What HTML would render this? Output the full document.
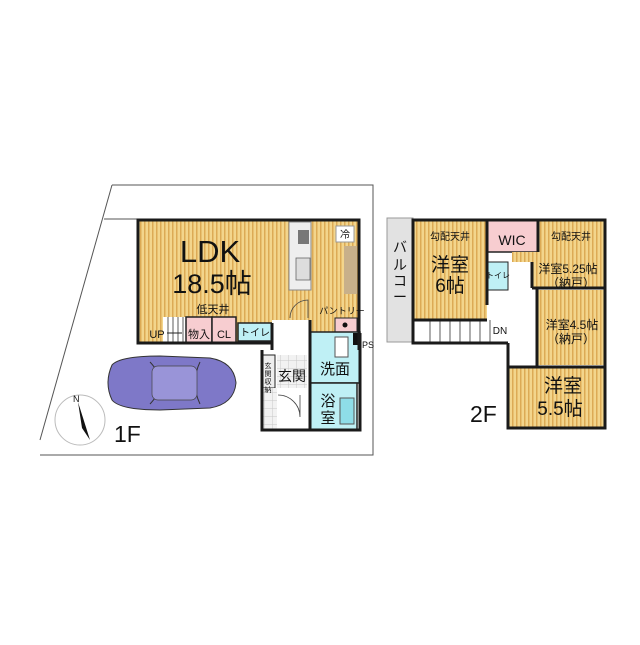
<!DOCTYPE html>
<html><head><meta charset="utf-8"><style>
html,body{margin:0;padding:0;background:#fff;}
svg text{font-family:"Liberation Sans","Noto Sans CJK JP",sans-serif;fill:#111;}
</style></head><body>
<svg width="640" height="640" viewBox="0 0 640 640" xmlns="http://www.w3.org/2000/svg">
<defs>
<pattern id="wood" width="4" height="4" patternUnits="userSpaceOnUse">
<rect width="4" height="4" fill="#f3d58c"/><rect width="1.5" height="4" fill="#dcaa55"/>
</pattern>
<pattern id="tile" width="8" height="8" patternUnits="userSpaceOnUse">
<rect width="8" height="8" fill="#f2f2f2"/><path d="M0 0H8M0 0V8" stroke="#c8c8c8" stroke-width="1"/>
</pattern>
</defs>
<!-- site lines 1F -->
<polyline points="112,185 373,185 373,455 40,455" fill="none" stroke="#555" stroke-width="1"/>
<line x1="112" y1="185" x2="40" y2="440" stroke="#555" stroke-width="1"/>
<line x1="104" y1="219" x2="137" y2="219" stroke="#555" stroke-width="1"/>

<!-- LDK -->
<rect x="138" y="220" width="221" height="123" fill="url(#wood)"/>
<rect x="163" y="317" width="23" height="26" fill="#fff"/>
<g stroke="#333" stroke-width="0.8">
<line x1="168" y1="317" x2="168" y2="343"/><line x1="173" y1="317" x2="173" y2="343"/><line x1="178" y1="317" x2="178" y2="343"/><line x1="183" y1="317" x2="183" y2="343"/>
</g>
<rect x="186" y="317" width="26" height="26" fill="#f7cdd0" stroke="#222" stroke-width="1.5"/>
<rect x="212" y="317" width="24" height="26" fill="#f7cdd0" stroke="#222" stroke-width="1.5"/>
<rect x="238" y="323" width="34" height="18" fill="#bff0f5" stroke="#222" stroke-width="1.5"/>
<!-- kitchen -->
<rect x="289" y="222" width="22" height="68" fill="#eee" stroke="#888" stroke-width="1"/>
<rect x="298" y="230" width="11" height="14" fill="#777"/>
<rect x="296" y="258" width="14" height="22" fill="#ddd" stroke="#666" stroke-width="0.8"/>
<rect x="336" y="226" width="18" height="16" fill="#fff" stroke="#999"/>
<text x="345" y="238" font-size="10" text-anchor="middle">冷</text>
<rect x="344" y="246" width="13" height="48" fill="#c8b08a"/>
<rect x="335" y="318" width="22" height="14" fill="#f7cdd0" stroke="#222" stroke-width="1"/>
<circle cx="345" cy="325" r="2.5" fill="#111"/>
<!-- hall -->
<rect x="272" y="320" width="38" height="110" fill="#fff"/>
<rect x="262" y="355" width="13" height="33" fill="#eee" stroke="#222" stroke-width="1"/>
<rect x="262" y="388" width="15" height="42" fill="url(#tile)"/>
<rect x="277" y="355" width="30" height="33" fill="url(#tile)"/>
<rect x="310" y="332" width="50" height="51" fill="#bff0f5" stroke="#222" stroke-width="1.5"/>
<rect x="310" y="383" width="47" height="47" fill="#bff0f5" stroke="#222" stroke-width="1.5"/>
<rect x="340" y="398" width="14" height="26" fill="#8edde8" stroke="#555"/>
<rect x="335" y="337" width="13" height="20" fill="#fff" stroke="#555"/>
<rect x="353" y="333" width="6" height="12" fill="#111"/>
<!-- walls 1F -->
<g fill="none" stroke="#1a1a1a" stroke-width="3">
<polyline points="272,343 138,343 138,220 359,220 359,350"/>
<polyline points="262,350 262,430 360,430 360,333"/>
<line x1="310" y1="320" x2="310" y2="430"/>
<line x1="272" y1="323" x2="272" y2="350"/>
</g>
<path d="M290 318 A18 18 0 0 1 308 300 L308 318" fill="none" stroke="#444" stroke-width="0.8"/>
<path d="M278 395 A22 22 0 0 1 300 417 L300 395" fill="none" stroke="#444" stroke-width="0.8"/>
<text x="210" y="262" font-size="31" text-anchor="middle">LDK</text>
<text x="212" y="293" font-size="27" text-anchor="middle">18.5帖</text>
<text x="213" y="313" font-size="11" text-anchor="middle">低天井</text>
<text x="157" y="338" font-size="11" text-anchor="middle">UP</text>
<line x1="167" y1="333" x2="182" y2="333" stroke="#222"/>
<text x="199" y="338" font-size="11" text-anchor="middle">物入</text>
<text x="224" y="338" font-size="11" text-anchor="middle">CL</text>
<text x="255" y="336" font-size="10" text-anchor="middle">トイレ</text>
<text x="342" y="314" font-size="9" text-anchor="middle">パントリー</text>
<text x="368" y="348" font-size="9" text-anchor="middle">PS</text>
<text x="335" y="374" font-size="15" text-anchor="middle">洗面</text>
<text x="328" y="406" font-size="15" text-anchor="middle">浴</text>
<text x="328" y="423" font-size="15" text-anchor="middle">室</text>
<text x="292" y="381" font-size="14" text-anchor="middle">玄関</text>
<text x="268" y="368" font-size="7" text-anchor="middle">玄</text>
<text x="268" y="376" font-size="7" text-anchor="middle">関</text>
<text x="268" y="384" font-size="7" text-anchor="middle">収</text>
<text x="268" y="392" font-size="7" text-anchor="middle">納</text>
<!-- car -->
<path d="M112 365 Q120 356 160 356 L210 358 Q234 362 236 383 Q234 404 210 408 L160 410 Q120 410 112 400 Q104 383 112 365Z" fill="#7e78c8" stroke="#333" stroke-width="1"/>
<path d="M150 362 Q170 383 150 404 M200 362 Q190 383 200 404" fill="none" stroke="#333" stroke-width="1"/>
<rect x="152" y="366" width="45" height="34" rx="6" fill="#9994d8" stroke="#444" stroke-width="0.7"/>
<!-- compass -->
<circle cx="80" cy="420" r="25" fill="none" stroke="#bbb" stroke-width="1"/>
<path d="M78 402 L90 440 L82 428 Z" fill="#111"/>
<text x="73" y="402" font-size="9">N</text>
<text x="114" y="442" font-size="23">1F</text>

<!-- 2F -->
<rect x="387" y="218" width="26" height="124" fill="#e2e2e2" stroke="#999"/>
<text x="400" y="252" font-size="14" text-anchor="middle">バ</text>
<text x="400" y="270" font-size="14" text-anchor="middle">ル</text>
<text x="400" y="286" font-size="14" text-anchor="middle">コ</text>
<text x="400" y="302" font-size="14" text-anchor="middle">ー</text>
<rect x="413" y="220" width="192" height="208" fill="none"/>
<rect x="413" y="220" width="74" height="100" fill="url(#wood)"/>
<rect x="487" y="220" width="51" height="32" fill="#f7cdd0" stroke="#222" stroke-width="1.5"/>
<polygon points="538,220 605,220 605,288 532,288 532,262 512,262 512,252 538,252" fill="url(#wood)"/>
<rect x="537" y="290" width="68" height="75" fill="url(#wood)"/>
<rect x="508" y="367" width="97" height="61" fill="url(#wood)"/>
<rect x="487" y="262" width="21" height="28" fill="#bff0f5" stroke="#222" stroke-width="1"/>
<rect x="413" y="320" width="80" height="23" fill="#fff"/>
<g stroke="#333" stroke-width="0.8">
<line x1="430" y1="320" x2="430" y2="343"/><line x1="440" y1="320" x2="440" y2="343"/><line x1="450" y1="320" x2="450" y2="343"/><line x1="460" y1="320" x2="460" y2="343"/><line x1="470" y1="320" x2="470" y2="343"/><line x1="480" y1="320" x2="480" y2="343"/><line x1="490" y1="320" x2="490" y2="343"/>
</g>
<g fill="none" stroke="#1a1a1a" stroke-width="3">
<polyline points="508,343 413,343 413,220 605,220 605,428 508,428 508,343"/>
<line x1="413" y1="320" x2="487" y2="320"/>
<line x1="487" y1="220" x2="487" y2="305"/>
<line x1="532" y1="288" x2="605" y2="288"/>
<line x1="537" y1="288" x2="537" y2="367"/>
<line x1="508" y1="367" x2="605" y2="367"/>
<line x1="538" y1="220" x2="538" y2="252"/>
<line x1="532" y1="262" x2="532" y2="288"/>
</g>
<text x="450" y="240" font-size="10" text-anchor="middle">勾配天井</text>
<text x="571" y="240" font-size="10" text-anchor="middle">勾配天井</text>
<text x="450" y="271" font-size="19" text-anchor="middle">洋室</text>
<text x="450" y="292" font-size="19" text-anchor="middle">6帖</text>
<text x="512" y="245" font-size="14" text-anchor="middle">WIC</text>
<text x="568" y="273" font-size="12" text-anchor="middle">洋室5.25帖</text>
<text x="571" y="287" font-size="12" text-anchor="middle">（納戸）</text>
<text x="572" y="329" font-size="12" text-anchor="middle">洋室4.5帖</text>
<text x="571" y="343" font-size="12" text-anchor="middle">（納戸）</text>
<text x="563" y="392" font-size="19" text-anchor="middle">洋室</text>
<text x="560" y="415" font-size="19" text-anchor="middle">5.5帖</text>
<text x="498" y="278" font-size="8" text-anchor="middle">トイレ</text>
<text x="500" y="334" font-size="10" text-anchor="middle">DN</text>
<text x="470" y="422" font-size="23">2F</text>
</svg>
</body></html>
